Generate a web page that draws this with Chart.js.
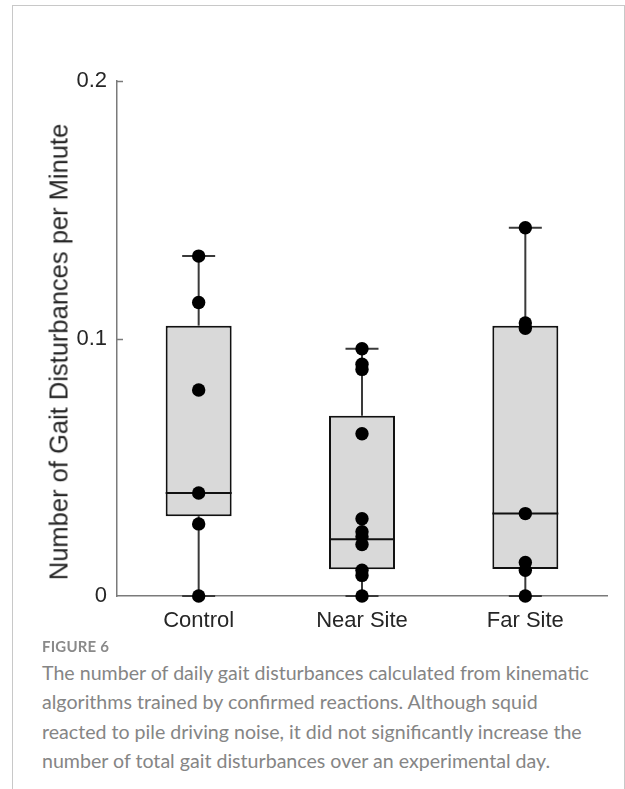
<!DOCTYPE html>
<html>
<head>
<meta charset="utf-8">
<script src="https://cdn.jsdelivr.net/npm/chart.js@4.4.1/dist/chart.umd.min.js"></script>
<style>
  html, body { margin: 0; padding: 0; background: #fff; width: 625px; height: 789px; overflow: hidden; }
  #frame { position: absolute; left: 12px; top: 5px; width: 613px; height: 820px; box-sizing: border-box; border: 1px solid #c8c8c8; border-bottom: none; }
  #chartWrap { position: absolute; left: 0; top: 0; width: 625px; height: 650px; }
  #ytitle { position: absolute; left: 59px; top: 352px; transform: translate(-50%, -50%) rotate(-90deg); white-space: nowrap; font-family: "Liberation Sans", Arial, sans-serif; font-size: 25.5px; color: #262626; }
  #figlabel { position: absolute; left: 42px; top: 637px; font-family: Lato, "Open Sans", sans-serif; font-size: 15px; font-weight: 700; color: #8a8a8a; letter-spacing: 0.2px; }
  #caption { position: absolute; left: 42px; top: 658px; width: 580px; white-space: nowrap; font-family: Lato, "Open Sans", sans-serif; font-size: 19.6px; line-height: 29.3px; color: #858585; }
</style>
</head>
<body>
<div id="frame"></div>
<div id="chartWrap"><canvas id="c" width="625" height="650"></canvas></div>
<div id="ytitle">Number of Gait Disturbances per Minute</div>
<div id="figlabel">FIGURE 6</div>
<div id="caption">The number of daily gait disturbances calculated from kinematic<br>algorithms trained by confirmed reactions. Although squid<br>reacted to pile driving noise, it did not significantly increase the<br>number of total gait disturbances over an experimental day.</div>
<script>
// ---- data ----
const categories = ['Control', 'Near Site', 'Far Site'];
const controlPoints = [0.132, 0.114, 0.080, 0.040, 0.028, 0];
const nearPoints = [0.096, 0.090, 0.088, 0.063, 0.030, 0.025, 0.023, 0.020, 0.010, 0.008, 0];
const farPoints = [0.143, 0.106, 0.104, 0.032, 0.013, 0.010, 0];
const whiskerLow = [0, 0, 0];
const q1 = [0.031, 0.0104, 0.0105];
const median = [0.040, 0.022, 0.032];
const q3 = [0.105, 0.070, 0.105];
const whiskerHigh = [0.132, 0.096, 0.143];
const yTicks = [0, 0.1, 0.2];
const yTickLabels = ['0', '0.1', '0.2'];

const pointSets = [controlPoints, nearPoints, farPoints];
const pointData = [];
pointSets.forEach((arr, i) => arr.forEach(v => pointData.push({ x: categories[i], y: v })));

const boxParts = {
  id: 'boxParts',
  beforeDatasetsDraw(chart) {
    const ctx = chart.ctx, y = chart.scales.y, area = chart.chartArea;
    ctx.save();
    ctx.strokeStyle = '#7a7a7a';
    ctx.lineWidth = 1.5;
    yTicks.forEach(v => {
      if (v === 0) return;
      const py = Math.round(y.getPixelForValue(v)) + 0.5;
      ctx.beginPath();
      ctx.moveTo(area.left, py);
      ctx.lineTo(area.left + 6, py);
      ctx.stroke();
    });
    ctx.restore();
  },
  beforeDatasetDraw(chart, args) {
    if (args.index !== 0) return;
    const ctx = chart.ctx, y = chart.scales.y;
    const meta = chart.getDatasetMeta(0);
    ctx.save();
    ctx.strokeStyle = '#3a3a3a';
    ctx.lineWidth = 2;
    meta.data.forEach((bar, i) => {
      const x = bar.x, cap = bar.width / 4;
      const segs = [[q3[i], whiskerHigh[i]], [q1[i], whiskerLow[i]]];
      segs.forEach(([a, b]) => {
        ctx.beginPath();
        ctx.moveTo(x, y.getPixelForValue(a));
        ctx.lineTo(x, y.getPixelForValue(b));
        ctx.stroke();
        ctx.beginPath();
        ctx.moveTo(x - cap, y.getPixelForValue(b));
        ctx.lineTo(x + cap, y.getPixelForValue(b));
        ctx.stroke();
      });
    });
    ctx.restore();
  },
  afterDatasetDraw(chart, args) {
    if (args.index !== 0) return;
    const ctx = chart.ctx, y = chart.scales.y;
    const meta = chart.getDatasetMeta(0);
    ctx.save();
    ctx.strokeStyle = '#111';
    ctx.lineWidth = 2;
    meta.data.forEach((bar, i) => {
      const half = bar.width / 2, py = y.getPixelForValue(median[i]);
      ctx.beginPath();
      ctx.moveTo(bar.x - half, py);
      ctx.lineTo(bar.x + half, py);
      ctx.stroke();
    });
    ctx.restore();
  }
};

new Chart(document.getElementById('c'), {
  type: 'bar',
  data: {
    labels: categories,
    datasets: [
      {
        type: 'bar',
        data: q1.map((v, i) => [v, q3[i]]),
        backgroundColor: '#d9d9d9',
        borderColor: '#111',
        borderWidth: 2,
        borderSkipped: false,
        barPercentage: 0.404,
        categoryPercentage: 1,
        order: 2
      },
      {
        type: 'scatter',
        data: pointData,
        pointRadius: 6.7,
        pointBackgroundColor: '#000',
        pointBorderColor: '#000',
        pointBorderWidth: 0,
        showLine: false,
        clip: false,
        order: 1
      }
    ]
  },
  options: {
    responsive: false,
    animation: false,
    events: [],
    layout: { padding: { left: 0, top: 81, right: 18, bottom: 0 } },
    plugins: { legend: { display: false }, tooltip: { enabled: false } },
    scales: {
      x: {
        type: 'category',
        offset: true,
        grid: { display: false, drawTicks: false },
        border: { display: true, color: '#7a7a7a', width: 1.5 },
        ticks: { color: '#262626', font: { family: 'Liberation Sans', size: 22 }, padding: 12 },
        afterFit(s) { s.height = 54; }
      },
      y: {
        min: 0, max: 0.2,
        afterBuildTicks(s) { s.ticks = yTicks.map(v => ({ value: v })); },
        grid: { display: false, drawTicks: false },
        border: { display: true, color: '#7a7a7a', width: 1.5 },
        ticks: {
          color: '#262626', font: { family: 'Liberation Sans', size: 22 }, padding: 10,
          callback(v) { const i = yTicks.indexOf(v); return i >= 0 ? yTickLabels[i] : ''; }
        },
        afterFit(s) { s.width = 117; }
      }
    }
  },
  plugins: [boxParts]
});
</script>
</body>
</html>
